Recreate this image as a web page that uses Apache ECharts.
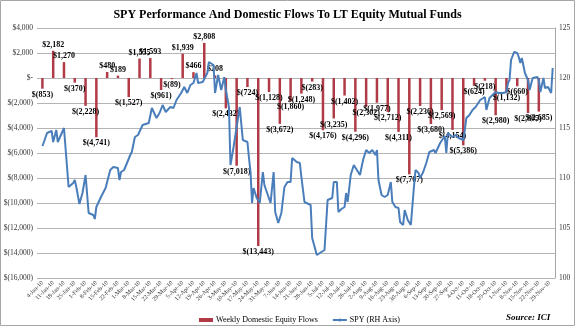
<!DOCTYPE html>
<html>
<head>
<meta charset="utf-8">
<script src="https://cdn.jsdelivr.net/npm/echarts@6/dist/echarts.min.js"></script>
<style>
  html, body { margin: 0; padding: 0; background: #fff; }
  #chart { width: 575px; height: 326px; }
</style>
</head>
<body>
<div id="chart"></div>
<script>
// weekly categories (Mondays)
const weeks = ['4-Jan-10', '11-Jan-10', '18-Jan-10', '25-Jan-10', '1-Feb-10', '8-Feb-10', '15-Feb-10', '22-Feb-10',
  '1-Mar-10', '8-Mar-10', '15-Mar-10', '22-Mar-10', '29-Mar-10', '5-Apr-10', '12-Apr-10', '19-Apr-10', '26-Apr-10',
  '3-May-10', '10-May-10', '17-May-10', '24-May-10', '31-May-10', '7-Jun-10', '14-Jun-10', '21-Jun-10', '28-Jun-10',
  '5-Jul-10', '12-Jul-10', '19-Jul-10', '26-Jul-10', '2-Aug-10', '9-Aug-10', '16-Aug-10', '23-Aug-10', '30-Aug-10',
  '6-Sep-10', '13-Sep-10', '20-Sep-10', '27-Sep-10', '4-Oct-10', '11-Oct-10', '18-Oct-10', '25-Oct-10',
  '1-Nov-10', '8-Nov-10', '15-Nov-10', '22-Nov-10', '29-Nov-10'];

// weekly domestic equity flows ($ millions)
const flows = [-853, 2182, 1270, -370, -2228, -4741, 480, 189, -1527, 1555, 1593, -961, -89, 1939, 466, 2808,
  208, -2432, -7018, -724, -13443, -1128, -3672, -1860, -1248, -283, -4176, -3235, -1402, -4296, -2302, -1977,
  -2712, -4311, -7707, -2236, -3680, -2569, -4154, -5386, -624, -218, -2980, -1132, -660, -2805, -2685, null];

// SPY price, days counted from 4-Jan-10
const spyDay = [0, 1, 3, 6, 7, 9, 10, 14, 17, 20, 21, 22, 24, 26, 28, 30, 33, 34, 35, 36,
  38, 41, 44, 46, 49, 50, 51, 53, 57, 58, 60, 62, 65, 69, 71, 72, 74, 76, 78, 80,
  83, 85, 87, 90, 92, 94, 96, 98, 100, 101, 102, 104, 107, 108, 111, 112, 114, 116, 118, 119,
  121, 122, 124, 126, 128, 130, 133, 134, 135, 136, 137, 139, 141, 143, 144, 148, 150, 151, 153, 155,
  157, 159, 161, 162, 165, 167, 168, 170, 171, 174, 175, 178, 180, 183, 185, 188, 189, 191, 192, 194,
  196, 197, 198, 200, 202, 203, 206, 208, 210, 212, 214, 216, 217, 218, 220, 222, 224, 226, 227, 229,
  231, 232, 234, 235, 237, 239, 241, 242, 244, 245, 247, 249, 251, 254, 255, 258, 261, 262, 263, 266,
  268, 270, 273, 274, 275, 277, 279, 281, 284, 287, 288, 290, 292, 294, 296, 299, 301, 302, 303, 304,
  306, 308, 309, 310, 311, 313, 315, 316, 318, 319, 321, 322, 323, 325, 326, 328, 329, 330, 331];
const spyPrice = [113.2, 113.6, 114.5, 114.7, 113.6, 114.8, 113.6, 115.0, 109.1, 109.5,
  109.8, 109.1, 107.4, 108.5, 110.3, 106.5, 106.3, 105.9, 107.1, 107.0,
  108.1, 109.0, 110.8, 111.1, 111.0, 109.8, 110.6, 110.8, 112.3, 112.6,
  114.1, 114.3, 115.3, 115.5, 117.0, 117.1, 116.0, 116.5, 117.3, 116.6,
  117.1, 117.0, 117.8, 118.5, 119.1, 118.5, 119.3, 119.5, 120.5, 119.5,
  119.3, 119.6, 120.5, 121.6, 121.3, 118.5, 120.3, 118.8, 120.1, 118.8,
  117.1, 111.3, 113.1, 115.1, 117.1, 113.8, 113.6, 112.0, 110.6, 107.5,
  109.0, 108.0, 107.5, 110.6, 109.3, 107.5, 110.6, 106.6, 105.5, 106.5,
  109.1, 109.6, 109.6, 112.0, 111.6, 111.5, 110.1, 107.6, 107.8, 107.3,
  104.0, 102.3, 102.5, 102.8, 107.8, 108.0, 109.6, 109.6, 106.6, 106.9,
  107.1, 108.5, 107.6, 110.3, 111.3, 111.5, 110.3, 111.8, 112.8, 112.5,
  112.8, 112.3, 112.8, 109.8, 108.3, 108.1, 108.3, 109.6, 107.6, 107.1,
  107.0, 105.6, 105.3, 106.8, 105.8, 105.3, 109.1, 110.8, 110.5, 110.0,
  110.6, 111.5, 112.6, 112.8, 112.5, 113.5, 114.2, 112.5, 114.5, 114.1,
  114.3, 114.0, 113.8, 114.8, 116.0, 116.3, 116.8, 117.1, 117.8, 118.1,
  116.8, 118.0, 118.3, 118.6, 118.5, 118.5, 118.6, 119.5, 119.8, 121.8,
  122.6, 122.5, 122.1, 121.5, 122.0, 120.5, 119.8, 118.8, 120.0, 120.1,
  120.1, 119.8, 118.6, 120.0, 119.0, 119.1, 119.0, 118.5, 121.0];

const serif = '"Liberation Serif", "DejaVu Serif", serif';

function money(v) {
  if (v === 0) return '$-';
  const s = Math.abs(v).toLocaleString('en-US');
  return v < 0 ? '$(' + s + ')' : '$' + s;
}

const chart = echarts.init(document.getElementById('chart'));

const barData = flows.map(v => (v === null ? null : {
  value: v,
  label: { position: v < 0 ? 'bottom' : 'top' }
}));

const option = {
  animation: false,
  title: [
    {
      text: 'SPY Performance And Domestic Flows To LT Equity Mutual Funds',
      left: 'center',
      top: 4,
      textStyle: { fontFamily: serif, fontSize: 12, fontWeight: 'bold', color: '#000' }
    },
    {
      text: 'Source: ICI',
      left: 501,
      top: 308,
      textStyle: { fontFamily: serif, fontSize: 9, fontWeight: 'bold', fontStyle: 'italic', color: '#000' }
    }
  ],
  legend: {
    left: 194,
    top: 311,
    itemGap: 14,
    itemWidth: 14,
    itemHeight: 4,
    textStyle: { fontFamily: serif, fontSize: 8, color: '#000', padding: [0, 0, 0, -2] },
    data: [
      { name: 'Weekly Domestic Equity Flows', icon: 'rect' },
      { name: 'SPY (RH Axis)' }
    ]
  },
  graphic: [{
    type: 'rect',
    shape: { x: 0.5, y: 0.5, width: 574, height: 325 },
    style: { fill: 'none', stroke: '#a6a6a6', lineWidth: 1 },
    silent: true
  }],
  grid: { left: 37, right: 20, top: 28, bottom: 48 },
  xAxis: [
    {
      type: 'category',
      data: weeks,
      axisLine: { show: false },
      axisTick: { show: false },
      axisLabel: {
        interval: 0,
        rotate: 45,
        margin: 4,
        fontFamily: serif,
        fontSize: 6,
        color: '#333'
      }
    },
    {
      type: 'value',
      min: -3.5,
      max: 332.5,
      show: false
    }
  ],
  yAxis: [
    {
      type: 'value',
      min: -16000,
      max: 4000,
      interval: 2000,
      axisLine: { show: false },
      axisTick: { show: false },
      axisLabel: {
        fontFamily: serif, fontSize: 7.5, color: '#333', margin: 4,
        formatter: money
      },
      splitLine: { lineStyle: { color: '#b4b4b4', width: 1 } }
    },
    {
      type: 'value',
      min: 100,
      max: 125,
      interval: 5,
      position: 'right',
      axisLine: { show: true, lineStyle: { color: '#a6a6a6' } },
      axisTick: { show: false },
      axisLabel: { fontFamily: serif, fontSize: 7.5, color: '#333', margin: 4 },
      splitLine: { show: false }
    }
  ],
  series: [
    {
      name: 'Weekly Domestic Equity Flows',
      type: 'bar',
      data: barData,
      barWidth: 2.5,
      itemStyle: { color: '#b03a45' },
      label: {
        show: true,
        distance: 2,
        fontFamily: serif,
        fontSize: 8,
        fontWeight: 'bold',
        color: '#000',
        formatter: p => money(p.value)
      },
      z: 2
    },
    {
      name: 'SPY (RH Axis)',
      type: 'line',
      xAxisIndex: 1,
      yAxisIndex: 1,
      data: spyDay.map((d, i) => [d, spyPrice[i]]),
      symbol: 'none',
      lineStyle: { color: '#4a7ebb', width: 2 },
      itemStyle: { color: '#4a7ebb' },
      z: 3
    }
  ]
};

chart.setOption(option);
</script>
</body>
</html>
